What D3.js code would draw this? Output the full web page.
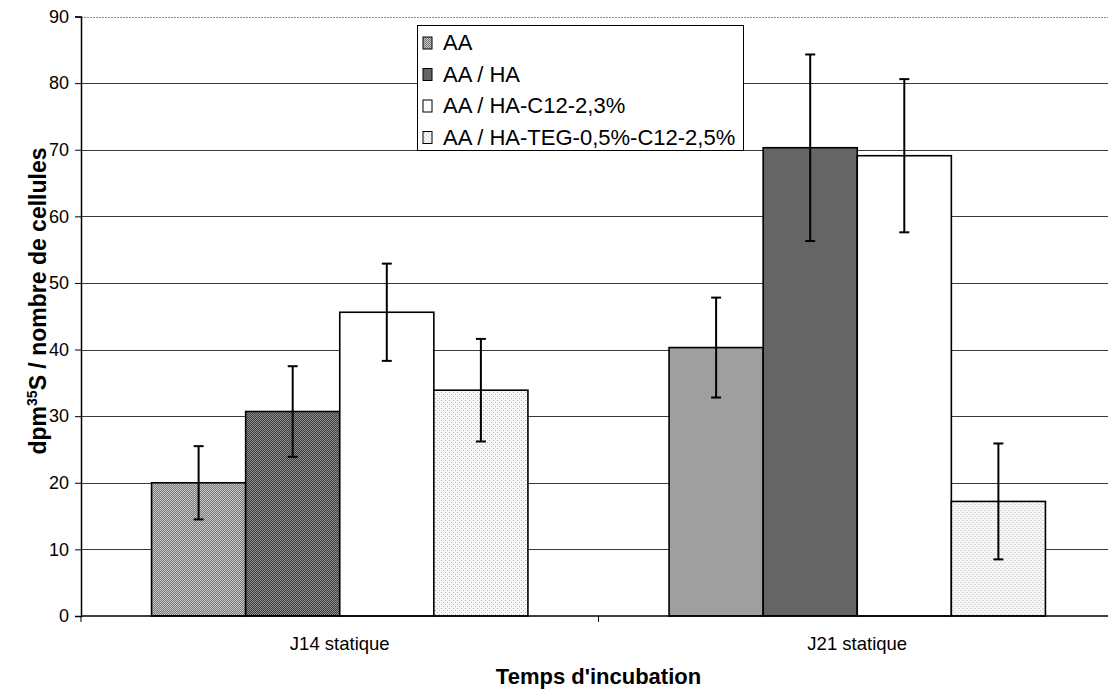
<!DOCTYPE html>
<html>
<head>
<meta charset="utf-8">
<script src="https://cdn.jsdelivr.net/npm/d3@7"></script>
<style>
  html, body { margin: 0; padding: 0; background: #fff; }
  svg { display: block; font-family: Arial, "Liberation Sans", Helvetica, sans-serif; }
</style>
</head>
<body>
<svg id="chart" width="1108" height="692"></svg>
<script>
// Incubation times (x categories)
const categories = ["J14 statique", "J21 statique"];
// Series names, in legend order
const seriesNames = ["AA", "AA / HA", "AA / HA-C12-2,3%", "AA / HA-TEG-0,5%-C12-2,5%"];
// Mean dpm 35S / cell number, one value per category
const valuesAA      = [20.0, 40.3];
const valuesAAHA    = [30.7, 70.3];
const valuesC12     = [45.6, 69.1];
const valuesTEG     = [33.9, 17.2];
// Standard deviations (error bars)
const errorsAA      = [5.5, 7.5];
const errorsAAHA    = [6.8, 14.0];
const errorsC12     = [7.3, 11.5];
const errorsTEG     = [7.7, 8.7];
// Y axis ticks
const yTicks = [0, 10, 20, 30, 40, 50, 60, 70, 80, 90];

const seriesValues = [valuesAA, valuesAAHA, valuesC12, valuesTEG];
const seriesErrors = [errorsAA, errorsAAHA, errorsC12, errorsTEG];

const svg = d3.select("#chart");

// Halftone-like fills for the four series
const defs = svg.append("defs");
function dither(id, base, dot, size, dots) {
  const p = defs.append("pattern").attr("id", id)
    .attr("patternUnits", "userSpaceOnUse").attr("width", size).attr("height", size);
  p.append("rect").attr("width", size).attr("height", size).attr("fill", base);
  dots.forEach(([x, y]) => p.append("rect").attr("x", x).attr("y", y)
    .attr("width", 1).attr("height", 1).attr("fill", dot));
}
dither("fillAA", "#c4c4c4", "#7a7a7a", 2, [[0, 0], [1, 1]]);
dither("fillAAHA", "#8c8c8c", "#3e3e3e", 2, [[0, 0], [1, 1]]);
dither("fillC12", "#ffffff", "#ffffff", 4, []);
dither("fillTEG", "#f7f7f7", "#b8b8b8", 4, [[0, 0], [2, 2]]);
const fills = ["url(#fillAA)", "url(#fillAAHA)", "url(#fillC12)", "url(#fillTEG)"];
const swatchFills = ["url(#fillAA)", "url(#fillAAHA)", "url(#fillC12)", "url(#fillTEG)"];

const plot = { left: 81, right: 1116, top: 16.5, bottom: 616 };

const x0 = d3.scaleBand().domain(categories).range([plot.left, plot.right]).padding(0);
const x1 = d3.scaleBand().domain(d3.range(seriesNames.length))
  .range([0, x0.bandwidth()]).paddingInner(0).paddingOuter(0.75);
const y = d3.scaleLinear().domain([0, 90]).range([plot.bottom, plot.top]);

// Horizontal gridlines
svg.append("g").selectAll("line").data(yTicks.filter(d => d > 0)).join("line")
  .attr("x1", plot.left).attr("x2", plot.right)
  .attr("y1", d => Math.round(y(d)) + 0.5).attr("y2", d => Math.round(y(d)) + 0.5)
  .attr("stroke", d => d === 90 ? "#8a8a8a" : "#3a3a3a")
  .attr("stroke-width", 1)
  .attr("stroke-dasharray", d => d === 90 ? "2,1" : null);

// Bars
const groups = svg.append("g").selectAll("g").data(categories).join("g")
  .attr("transform", d => `translate(${x0(d)},0)`);

groups.selectAll("rect").data((c, ci) => seriesValues.map((vals, si) => ({ si, v: vals[ci] })))
  .join("rect")
  .attr("x", d => x1(d.si))
  .attr("y", d => y(d.v))
  .attr("width", x1.bandwidth())
  .attr("height", d => y(0) - y(d.v))
  .attr("fill", d => fills[d.si])
  .attr("stroke", "#000")
  .attr("stroke-width", 1.6);

// Error bars
const capW = 10;
groups.selectAll("g.err").data((c, ci) => seriesValues.map((vals, si) => ({ si, v: vals[ci], e: seriesErrors[si][ci] })))
  .join("g").attr("class", "err")
  .each(function (d) {
    const g = d3.select(this);
    const cx = x1(d.si) + x1.bandwidth() / 2;
    g.append("line").attr("x1", cx).attr("x2", cx)
      .attr("y1", y(d.v + d.e)).attr("y2", y(d.v - d.e))
      .attr("stroke", "#000").attr("stroke-width", 2);
    [d.v + d.e, d.v - d.e].forEach(t => g.append("line")
      .attr("x1", cx - capW / 2).attr("x2", cx + capW / 2)
      .attr("y1", y(t)).attr("y2", y(t))
      .attr("stroke", "#000").attr("stroke-width", 2));
  });

// Y axis
const yAxis = svg.append("g").attr("transform", `translate(${plot.left},0)`)
  .call(d3.axisLeft(y).tickValues(yTicks).tickSize(6).tickPadding(6));
yAxis.select(".domain").attr("stroke", "#000").attr("stroke-width", 1.5);
yAxis.selectAll(".tick line").attr("stroke", "#000");
yAxis.selectAll(".tick text").attr("font-size", 18).attr("fill", "#000")
  .attr("font-family", "Arial, 'Liberation Sans', sans-serif");

// X axis
const xAxisG = svg.append("g").attr("transform", `translate(0,${plot.bottom})`);
xAxisG.append("line").attr("x1", plot.left).attr("x2", plot.right)
  .attr("y1", 0).attr("y2", 0).attr("stroke", "#000").attr("stroke-width", 1.5);
xAxisG.selectAll("line.tk").data(categories.map(c => x0(c)).concat([plot.right])).join("line")
  .attr("class", "tk").attr("x1", d => d).attr("x2", d => d)
  .attr("y1", 0).attr("y2", 6).attr("stroke", "#000");
xAxisG.selectAll("text").data(categories).join("text")
  .attr("x", d => x0(d) + x0.bandwidth() / 2).attr("y", 34)
  .attr("text-anchor", "middle").attr("font-size", 18.5).attr("fill", "#000")
  .text(d => d);

// Axis titles
svg.append("text").attr("x", (plot.left + plot.right) / 2).attr("y", 684)
  .attr("text-anchor", "middle").attr("font-size", 22).attr("font-weight", "bold")
  .text("Temps d'incubation");

const yTitle = svg.append("text")
  .attr("transform", "translate(46,301) rotate(-90)")
  .attr("text-anchor", "middle").attr("font-size", 23).attr("font-weight", "bold");
yTitle.append("tspan").text("dpm");
yTitle.append("tspan").attr("font-size", 14).attr("dy", -9).text("35");
yTitle.append("tspan").attr("dy", 9).text("S / nombre de cellules");

// Legend
const legend = svg.append("g");
legend.append("rect").attr("x", 417.5).attr("y", 25.5).attr("width", 326).attr("height", 125)
  .attr("fill", "#fff").attr("stroke", "#000").attr("stroke-width", 1);
const items = legend.selectAll("g.item").data(seriesNames).join("g").attr("class", "item")
  .attr("transform", (d, i) => `translate(0,${50 + i * 31.5})`);
items.append("rect").attr("x", 423).attr("y", -13).attr("width", 9).attr("height", 12)
  .attr("fill", (d, i) => swatchFills[i]).attr("stroke", "#000").attr("stroke-width", 1);
items.append("text").attr("x", 443).attr("y", 0).attr("font-size", 22).attr("fill", "#000")
  .text(d => d);
</script>
</body>
</html>
